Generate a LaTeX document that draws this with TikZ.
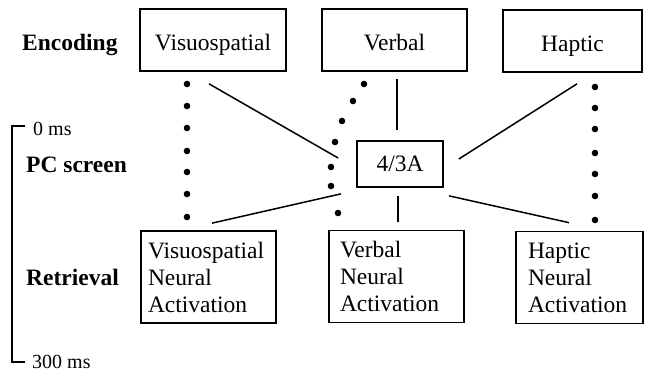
\documentclass[tikz,border=0pt]{standalone}
\usepackage{fontspec}
\setmainfont{Liberation Serif}
\usetikzlibrary{calc}

\tikzset{
  caixa/.style={draw, line width=1.7pt, inner sep=0pt, font=\fontsize{23.5}{27}\selectfont},
  topo/.style={caixa, minimum height=62pt, text height=20pt, text depth=0pt},
  recup/.style={caixa, align=left, inner xsep=11pt, minimum height=92pt},
  rotulo/.style={anchor=base west, inner sep=0pt, font=\fontsize{23.5}{27}\selectfont\bfseries},
  tempo/.style={anchor=base west, inner sep=0pt, font=\fontsize{20}{24}\selectfont},
  ligacao/.style={line width=1.5pt},
}

\begin{document}
\begin{tikzpicture}[x=1pt,y=-1pt]
\useasboundingbox (0,0) rectangle (646,376);

% rótulos à esquerda
\node[rotulo] (enc) at (22,50) {Encoding};
\node[rotulo] (pc) at (26,172) {PC screen};
\node[rotulo] (ret) at (26,285) {Retrieval};
\node[tempo] (zero) at (33,135) {0 ms};
\node[tempo] (fim) at (32,368) {300 ms};

% escala de tempo
\draw[ligacao] (25,126) -| (12,362) -- (25,362);

% codificação
\node[topo, minimum width=146pt] (vis) at (213,40) {Visuospatial};
\node[topo, minimum width=145pt] (verb) at (394.5,40) {Verbal};
\node[topo, minimum width=139pt] (hap) at (572.5,41) {Haptic};

% tela
\node[caixa, minimum width=86pt, minimum height=46pt] (tela) at (400,164) {4/3A};

% recuperação
\node[recup, text width=121pt, inner xsep=7pt] (visret) at (208.5,277) {Visuospatial\\Neural\\Activation};
\node[recup, text width=113pt] (verbret) at (396.5,276.5) {Verbal\\Neural\\Activation};
\node[recup, text width=103pt, inner xsep=12pt] (hapret) at (579.5,277.5) {Haptic\\Neural\\Activation};

% ligações
\draw[ligacao] ($(vis.south)+(-4,12)$) -- ($(tela.west)+(-18,-6)$);
\draw[ligacao] ($(verb.south)+(2.5,7)$) -- ($(tela.north)+(-3,-10)$);
\draw[ligacao] ($(hap.south)+(4.5,11)$) -- ($(tela.east)+(15,-5)$);
\draw[ligacao] ($(tela.south)+(-59,6)$) -- ($(visret.north)+(3.5,-7)$);
\draw[ligacao] ($(tela.south)+(-2,8)$) -- ($(verbret.north)+(1.5,-8)$);
\draw[ligacao] ($(tela.south)+(49,8)$) -- ($(hapret.north)+(-10.5,-8)$);

% pontos
\foreach \y in {84,106,128,151,172,194,217} {
  \fill (187,\y) circle (3.3pt);
}
\foreach \p in {(364,84),(353,101),(342,121),(335,142),(331,167),(331,186),(338,213)} {
  \fill \p circle (3.3pt);
}
\foreach \y in {87,108,129,153,174,196,220} {
  \fill (595,\y) circle (3.3pt);
}

\end{tikzpicture}
\end{document}
